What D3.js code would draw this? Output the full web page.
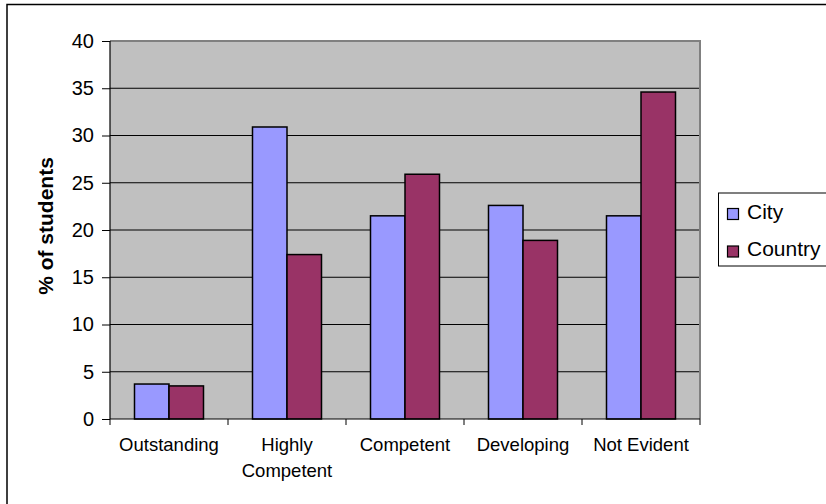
<!DOCTYPE html>
<html>
<head>
<meta charset="utf-8">
<script src="https://cdn.jsdelivr.net/npm/d3@7"></script>
<style>
  html, body { margin: 0; padding: 0; background: #fff; }
  svg { display: block; }
  text { font-family: "Liberation Sans", Arial, sans-serif; fill: #000; }
</style>
</head>
<body>
<svg id="chart" width="826" height="504"></svg>
<script>
// Achievement levels (a "\n" marks a line break in the axis label)
const categories = ["Outstanding", "Highly\nCompetent", "Competent", "Developing", "Not Evident"];
const seriesNames = ["City", "Country"];
const cityValues = [3.7, 30.9, 21.5, 22.6, 21.5];
const countryValues = [3.5, 17.4, 25.9, 18.9, 34.6];
const yTicks = [0, 5, 10, 15, 20, 25, 30, 35, 40];
const seriesColors = ["#9999FF", "#993366"];

const svg = d3.select("#chart");

// Outer chart frame (runs off the right and bottom of the page)
svg.append("rect")
  .attr("x", 7).attr("y", 4.5)
  .attr("width", 840).attr("height", 520)
  .attr("fill", "#fff").attr("stroke", "#000").attr("stroke-width", 1.5);

const plot = { left: 110, right: 700, top: 41, bottom: 419 };

const x = d3.scaleBand().domain(categories).range([plot.left, plot.right]);
const xs = d3.scaleBand().domain(seriesNames).range([0, x.bandwidth()]).paddingOuter(0.71);
const y = d3.scaleLinear().domain([0, 40]).range([plot.bottom, plot.top]);

// Plot background
svg.append("rect")
  .attr("x", plot.left).attr("y", plot.top)
  .attr("width", plot.right - plot.left).attr("height", plot.bottom - plot.top)
  .attr("fill", "#C0C0C0");

// Horizontal gridlines
svg.append("g").selectAll("line")
  .data(yTicks.filter(t => t > 0 && t < 40))
  .join("line")
  .attr("x1", plot.left).attr("x2", plot.right)
  .attr("y1", d => y(d)).attr("y2", d => y(d))
  .attr("stroke", "#000").attr("stroke-width", 1);

// Plot border (top and right)
svg.append("path")
  .attr("d", `M${plot.left},${plot.top}H${plot.right}V${plot.bottom}`)
  .attr("fill", "none").attr("stroke", "#808080").attr("stroke-width", 2);

// Bars
const rows = categories.map((c, i) => ({ cat: c, values: [cityValues[i], countryValues[i]] }));
svg.append("g").selectAll("g")
  .data(rows)
  .join("g")
  .attr("transform", d => `translate(${x(d.cat)},0)`)
  .selectAll("rect")
  .data(d => d.values.map((v, j) => ({ name: seriesNames[j], value: v, color: seriesColors[j] })))
  .join("rect")
  .attr("x", d => xs(d.name))
  .attr("y", d => y(d.value))
  .attr("width", xs.bandwidth())
  .attr("height", d => y(0) - y(d.value))
  .attr("fill", d => d.color)
  .attr("stroke", "#000").attr("stroke-width", 1.5);

// Y axis
const yAxis = svg.append("g")
  .attr("transform", `translate(${plot.left},0)`)
  .call(d3.axisLeft(y).tickValues(yTicks).tickSize(8).tickPadding(8));
yAxis.select(".domain").attr("stroke", "#000").attr("stroke-width", 1.2).attr("d", `M0,${plot.top}V${plot.bottom}`);
yAxis.selectAll(".tick line").attr("stroke", "#000");
yAxis.selectAll(".tick text")
  .style("font-size", "20px")
  .attr("font-family", null);

// X axis line and category boundary ticks
const xEdges = categories.map(c => x(c)).concat([x.range()[1]]);
const xAxis = svg.append("g");
xAxis.append("line")
  .attr("x1", plot.left).attr("x2", plot.right)
  .attr("y1", plot.bottom).attr("y2", plot.bottom)
  .attr("stroke", "#000").attr("stroke-width", 1.2);
xAxis.selectAll("line.edge")
  .data(xEdges)
  .join("line").attr("class", "edge")
  .attr("x1", d => d).attr("x2", d => d)
  .attr("y1", plot.bottom).attr("y2", plot.bottom + 6)
  .attr("stroke", "#000");

// Category labels
xAxis.selectAll("text.cat")
  .data(categories)
  .join("text").attr("class", "cat")
  .attr("x", d => x(d) + x.bandwidth() / 2)
  .attr("y", 450.5)
  .attr("text-anchor", "middle")
  .style("font-size", "18.5px")
  .each(function (d) {
    const t = d3.select(this);
    d.split("\n").forEach((line, k) => {
      t.append("tspan")
        .attr("x", x(d) + x.bandwidth() / 2)
        .attr("dy", k === 0 ? 0 : 26)
        .text(line);
    });
  });

// Y axis title
svg.append("text")
  .attr("transform", "translate(53,226) rotate(-90)")
  .attr("text-anchor", "middle")
  .style("font-size", "21px")
  .style("font-weight", "bold")
  .text("% of students");

// Legend
const legend = svg.append("g");
legend.append("rect")
  .attr("x", 718.5).attr("y", 193)
  .attr("width", 140).attr("height", 73)
  .attr("fill", "#fff").attr("stroke", "#000").attr("stroke-width", 1);
const items = legend.selectAll("g.item")
  .data(seriesNames)
  .join("g").attr("class", "item")
  .attr("transform", (d, i) => `translate(0,${i * 37.5})`);
items.append("rect")
  .attr("x", 727.5).attr("y", 208.5)
  .attr("width", 11).attr("height", 11)
  .attr("fill", (d, i) => seriesColors[i])
  .attr("stroke", "#000").attr("stroke-width", 1.2);
items.append("text")
  .attr("x", 747)
  .attr("y", 218.5)
  .style("font-size", "21px")
  .text(d => d);
</script>
</body>
</html>
